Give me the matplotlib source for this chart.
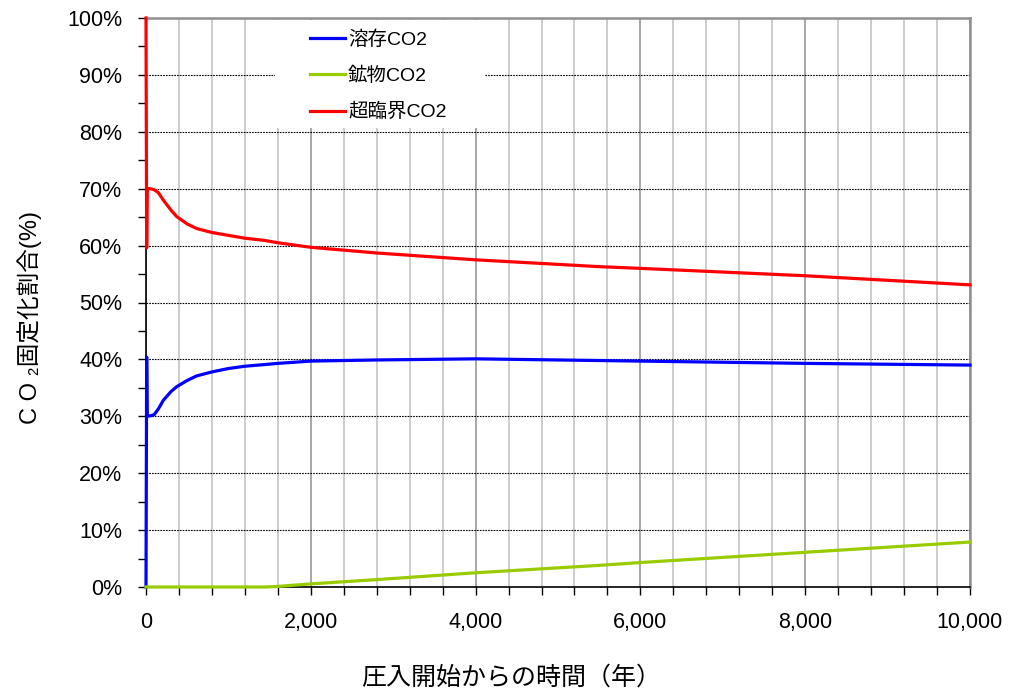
import numpy as np
import matplotlib.pyplot as plt
from matplotlib.ticker import MultipleLocator, FuncFormatter
from matplotlib.patches import Rectangle

# Data (years since injection start, % of CO2)
years = [0, 8, 15, 60, 100, 150, 210, 300, 372, 500, 615, 800, 1000, 1200, 1445,
         1600, 2000, 2800, 4000, 5500, 6000, 8000, 10000]
dissolved = [0, 40.4, 30.0, 30.1, 30.3, 31.3, 32.8, 34.3, 35.2, 36.3, 37.1, 37.8,
             38.4, 38.8, 39.1, 39.3, 39.7, 39.9, 40.1, 39.8, 39.7, 39.3, 39.0]
mineral = [0, 0, 0, 0, 0, 0, 0, 0, 0, 0, 0, 0, 0, 0, 0, 0.1, 0.55, 1.3, 2.5, 3.8,
           4.3, 6.1, 7.9]
supercritical = [100, 59.6, 70.0, 70.0, 69.8, 69.3, 68.0, 66.3, 65.1, 63.8, 63.0,
                 62.3, 61.8, 61.3, 60.9, 60.5, 59.7, 58.7, 57.5, 56.3, 56.0, 54.7, 53.1]
labels = ['溶存CO2', '鉱物CO2', '超臨界CO2']
colors = ['#0000ff', '#99cc00', '#ff0000']

fonts = ['Liberation Sans', 'Noto Sans CJK JP', 'DejaVu Sans']
plt.rcParams['font.family'] = fonts

fig = plt.figure(figsize=(10.11, 6.9), dpi=100)
ax = fig.add_axes([146 / 1011, 1 - 587 / 690, 824 / 1011, 569 / 690])

for ys, lab, c in zip([dissolved, mineral, supercritical], labels, colors):
    ax.plot(years, ys, color=c, lw=2.3, label=lab, zorder=3, clip_on=False)

ax.set_xlim(0, 10000)
ax.set_ylim(0, 100)

# Ticks
ax.xaxis.set_major_locator(MultipleLocator(2000))
ax.xaxis.set_minor_locator(MultipleLocator(400))
ax.yaxis.set_major_locator(MultipleLocator(10))
ax.yaxis.set_minor_locator(MultipleLocator(5))
ax.xaxis.set_major_formatter(FuncFormatter(lambda v, p: f'{int(v):,}'))
ax.yaxis.set_major_formatter(FuncFormatter(lambda v, p: f'{int(v)}%'))
ax.tick_params(which='both', direction='out', length=6, width=1, color='black')
ax.tick_params(axis='y', which='major', labelsize=15.5, pad=11)
ax.tick_params(axis='x', which='major', labelsize=15.5, pad=12)

# Grid
ax.set_axisbelow(True)
ax.grid(axis='x', which='minor', color='#c8c8c8', lw=1.3)
ax.grid(axis='x', which='major', color='#a0a0a0', lw=1.3)
ax.grid(axis='y', which='major', color='black', lw=0.8, linestyle=(0, (1.5, 1)))

for s in ['left', 'bottom']:
    ax.spines[s].set_color('black')
    ax.spines[s].set_linewidth(1.2)
for s in ['top', 'right']:
    ax.spines[s].set_color('#909090')
    ax.spines[s].set_linewidth(1.8)

# white box behind the legend hides the grid
ax.add_patch(Rectangle((0.157, 0.807), 0.254, 0.19, transform=ax.transAxes,
                       facecolor='white', edgecolor='none', zorder=1))
ax.legend(loc='upper left', bbox_to_anchor=(0.178, 1.01), frameon=False,
          handlelength=1.8, handletextpad=0.15, labelspacing=0.93,
          prop={'family': fonts, 'size': 14})

fig.text(511 / 1011, 1 - 678 / 690, '圧入開始からの時間（年）', ha='center', va='center',
         fontsize=18, family=fonts)
fig.text(30 / 1011, 1 - 317 / 690, 'C O ₂固定化割合(%)', ha='center', va='center',
         rotation=90, fontsize=17, family=fonts)

fig.savefig('out.png', dpi=100)
